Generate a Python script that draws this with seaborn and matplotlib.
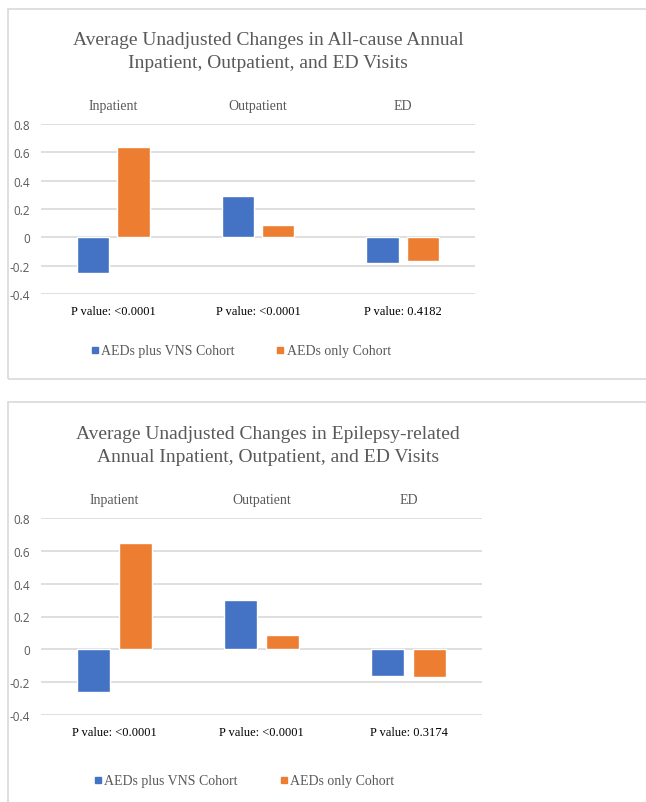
import numpy as np
import pandas as pd
import seaborn as sns
import matplotlib.pyplot as plt
from matplotlib.patches import Rectangle
from matplotlib.lines import Line2D

categories = ['Inpatient', 'Outpatient', 'ED']
cohorts = ['AEDs plus VNS Cohort', 'AEDs only Cohort']

titles = [
    'Average Unadjusted Changes in All-cause Annual\nInpatient, Outpatient, and ED Visits',
    'Average Unadjusted Changes in Epilepsy-related\nAnnual Inpatient, Outpatient, and ED Visits',
]
vns_values = [[-0.25, 0.29, -0.18], [-0.26, 0.30, -0.16]]
only_values = [[0.64, 0.09, -0.17], [0.65, 0.09, -0.17]]
p_values = [['<0.0001', '<0.0001', '0.4182'], ['<0.0001', '<0.0001', '0.3174']]
yticks = [-0.4, -0.2, 0, 0.2, 0.4, 0.6, 0.8]
ytick_labels = ['-0.4', '-0.2', '0', '0.2', '0.4', '0.6', '0.8']

COLORS = ['#4472C4', '#ED7D31']
GREY = '#595959'
GRID = '#D9D9D9'
SERIF = ['Liberation Serif', 'DejaVu Serif']
W, H = 646, 803

sns.set_theme(style='white')
plt.rcParams['font.family'] = ['Open Sans', 'DejaVu Sans']

fig = plt.figure(figsize=(W / 100, H / 100), dpi=100)

# panel frames (pixels: x0, y_top, x1, y_bottom)
frames = [(8, 10, 660, 380), (8, 403, 660, 820)]
# axes boxes in pixels: left, top(0.8 line), right, bottom(-0.4 line)
boxes = [(41, 125, 475, 295), (41, 519, 482, 716)]

for i in range(2):
    fx0, fy0, fx1, fy1 = frames[i]
    fig.patches.append(Rectangle((fx0 / W, 1 - fy1 / H), (fx1 - fx0) / W, (fy1 - fy0) / H,
                                 transform=fig.transFigure, fill=False, edgecolor=GRID, lw=1.2))
    l, t, r, b = boxes[i]
    ax = fig.add_axes([l / W, 1 - b / H, (r - l) / W, (b - t) / H])

    df = pd.DataFrame({
        'category': categories * 2,
        'cohort': [cohorts[0]] * 3 + [cohorts[1]] * 3,
        'value': vns_values[i] + only_values[i],
    })
    sns.barplot(data=df, x='category', y='value', hue='cohort', palette=COLORS,
                saturation=1, width=0.56, gap=0.2, ax=ax, legend=False, zorder=3)

    ax.set_ylim(-0.4, 0.8)
    ax.set_yticks(yticks)
    ax.set_yticklabels(ytick_labels, color=GREY, fontsize=8.5)
    ax.tick_params(axis='y', length=0, pad=8)
    ax.grid(axis='y', color=GRID, lw=1.2, zorder=0)
    ax.set_axisbelow(True)
    for s in ax.spines.values():
        s.set_visible(False)
    ax.set_xlabel('')
    ax.set_ylabel('')
    ax.set_xticks([])

    for j, cat in enumerate(categories):
        ax.annotate(cat, (j, 1), xycoords=('data', 'axes fraction'), xytext=(0, 13),
                    textcoords='offset points', ha='center', va='center',
                    family=SERIF, fontsize=10, color=GREY)
        ax.annotate('P value: ' + p_values[i][j], (j, 0), xycoords=('data', 'axes fraction'),
                    xytext=(0, -12.5), textcoords='offset points', ha='center', va='center',
                    family=SERIF, fontsize=9, color='black')

    handles = [Line2D([], [], marker='s', ls='none', color=c, markersize=4.5) for c in COLORS]
    ax.legend(handles, cohorts, loc='center', bbox_to_anchor=(0.46, -0.335), ncol=2,
              frameon=False, prop={'family': SERIF, 'size': 10}, labelcolor=GREY,
              handlelength=0.6, handletextpad=0.15, columnspacing=3.0)

    fig.text(268 / W, 1 - (t - 73) / H, titles[i], ha='center', va='center',
             family=SERIF, fontsize=14, color=GREY, linespacing=1.4)

fig.savefig('out.png', dpi=100)
